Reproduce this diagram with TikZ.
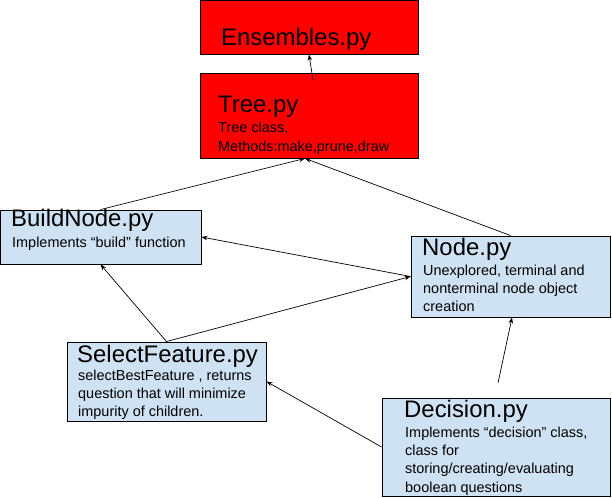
\documentclass[tikz,border=0pt]{standalone}
\usepackage{fontspec}
\setmainfont{Liberation Sans}
\usetikzlibrary{arrows.meta}
\definecolor{boxred}{HTML}{FF0000}
\definecolor{boxblue}{HTML}{CFE2F3}
\newcommand{\titlefont}{\fontsize{24}{28}\selectfont}
\newcommand{\bodyfont}{\fontsize{14.5}{18.5}\selectfont}
\begin{document}
\begin{tikzpicture}[x=1bp,y=-1bp,
  boxbase/.style={draw=black, line width=0.9bp, rectangle, inner sep=0pt},
  redbox/.style={boxbase, fill=boxred},
  bluebox/.style={boxbase, fill=boxblue},
  titletext/.style={anchor=base west, inner sep=0pt, font=\titlefont},
  bodytext/.style={anchor=base west, inner sep=0pt, font=\bodyfont},
  conn/.style={draw=black, line width=0.7bp, -{Stealth[length=6bp,width=4.5bp]}}
]
\useasboundingbox (0,0) rectangle (612,498);
% boxes
\node[redbox, minimum width=218bp, minimum height=54bp] (ens) at (309,27) {};
\node[redbox, minimum width=218bp, minimum height=85bp] (tree) at (309,115.5) {};
\node[bluebox, minimum width=201bp, minimum height=54bp] (bn) at (100.5,237) {};
\node[bluebox, minimum width=199bp, minimum height=81bp] (nd) at (510.5,276.5) {};
\node[bluebox, minimum width=199bp, minimum height=79bp] (sf) at (166.5,381.5) {};
\node[bluebox, minimum width=228bp, minimum height=98bp] (dec) at (496,447) {};
% texts
\node[titletext] (ensT) at (221,46) {Ensembles.py};
\node[titletext] (treeT) at (218,113) {Tree.py};
\node[bodytext] (treeB) at (218,133) {\begin{tabular}[t]{@{}l@{}}Tree class,\\ Methods:make,prune,draw\end{tabular}};
\node[titletext] (bnT) at (11,227) {BuildNode.py};
\node[bodytext] (bnB) at (12,247) {Implements “build” function};
\node[titletext] (ndT) at (422,255) {Node.py};
\node[bodytext] (ndB) at (423,275) {\begin{tabular}[t]{@{}l@{}}Unexplored, terminal and\\ nonterminal node object\\ creation\end{tabular}};
\node[titletext] (sfT) at (77,362) {SelectFeature.py};
\node[bodytext] (sfB) at (78,380) {\begin{tabular}[t]{@{}l@{}}selectBestFeature , returns\\ question that will minimize\\ impurity of children.\end{tabular}};
\node[titletext] (decT) at (404,417) {Decision.py};
\node[bodytext] (decB) at (405,437) {\begin{tabular}[t]{@{}l@{}}Implements “decision” class,\\ class for\\ storing/creating/evaluating\\ boolean questions\end{tabular}};
% connectors
\coordinate (treeTail) at (313,80);
\coordinate (decTail) at (498,383);
\draw[conn] (treeTail) -- (ens.south);
\draw[conn] (bn.north) -- ([xshift=-4bp]tree.south);
\draw[conn] (nd.north) -- ([xshift=-4bp]tree.south);
\draw[conn] (nd.west) -- (bn.east);
\draw[conn] (sf.north) -- (bn.south);
\draw[conn] (sf.north) -- (nd.west);
\draw[conn] (decTail) -- ([xshift=1.5bp]nd.south);
\draw[conn] (dec.west) -- (sf.east);
\end{tikzpicture}
\end{document}
